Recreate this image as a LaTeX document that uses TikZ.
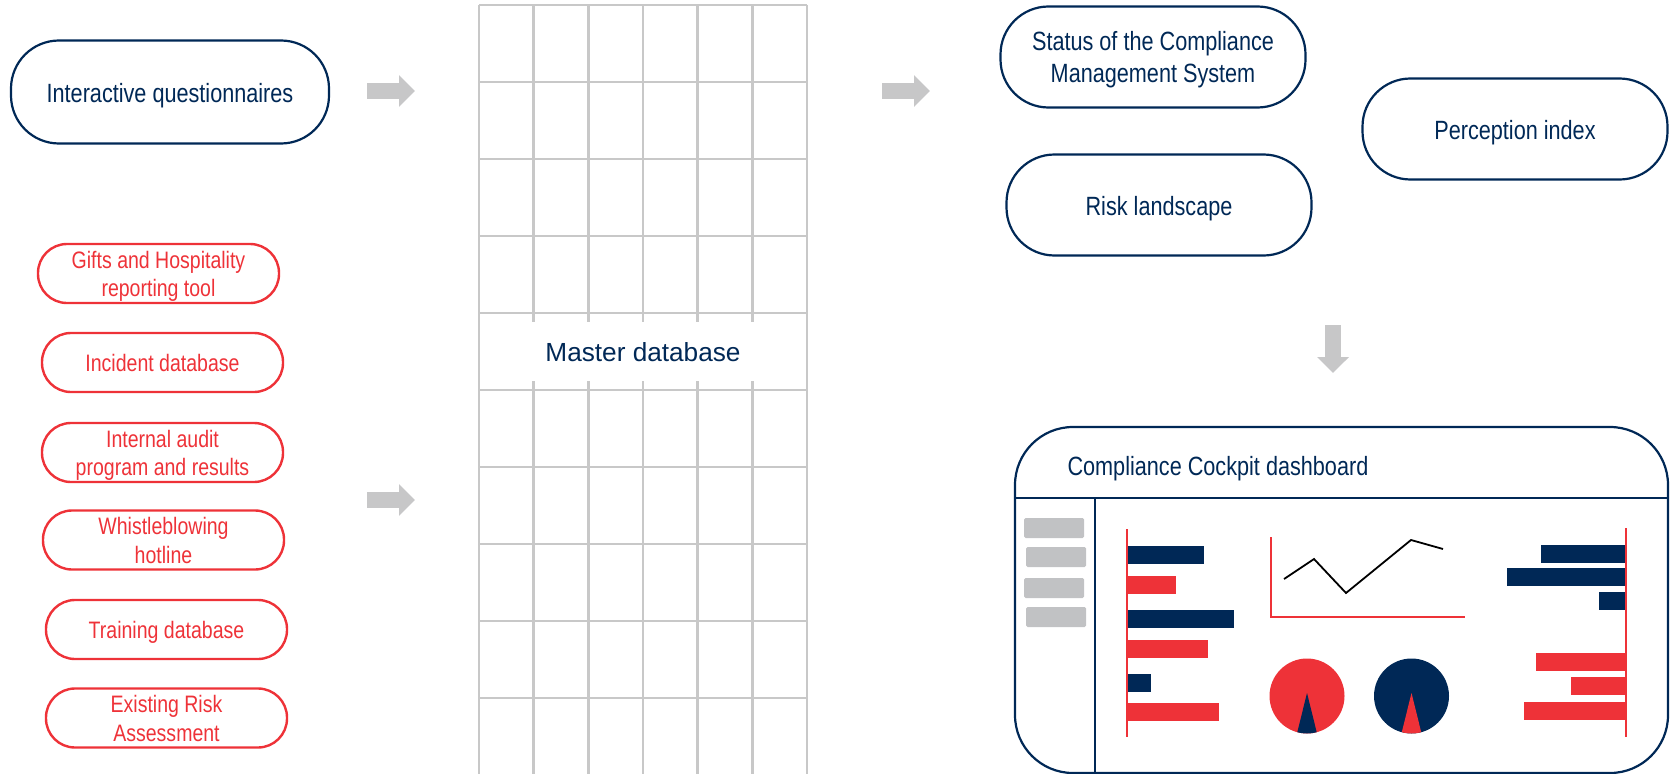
\documentclass[tikz,border=0pt]{standalone}
\usepackage{fontspec}
\setmainfont{Liberation Sans}[FakeStretch=0.82]
\newfontfamily\widesans{Liberation Sans}
\usetikzlibrary{arrows.meta}

\definecolor{navy}{RGB}{0,40,86}
\definecolor{brandred}{RGB}{238,50,56}
\definecolor{arrowgray}{RGB}{199,199,200}
\definecolor{gridgray}{RGB}{200,200,200}
\definecolor{blockgray}{RGB}{193,194,196}

\tikzset{
  navybox/.style={draw=navy, line width=2.2bp, rounded corners=48bp,
    minimum width=305bp, minimum height=101bp, align=center, text=navy,
    font=\fontsize{26.4bp}{32bp}\selectfont, text height=21bp, text depth=0pt},
  redbox/.style={draw=brandred, line width=2.4bp, rounded corners=29bp,
    minimum width=241bp, minimum height=59bp, inner sep=0pt, align=center,
    text=brandred, font=\fontsize{23.8bp}{28.5bp}\selectfont, text height=18bp, text depth=0pt},
  lines/.style={text height=#1, text depth=0pt},
  fatarrow/.style={draw=arrowgray, line width=16bp,
    -{Triangle[length=16bp,width=31bp]}},
  gridline/.style={draw=gridgray, line width=2.5bp},
  axisline/.style={draw=brandred, line width=2bp}
}

\begin{document}
\begin{tikzpicture}[x=1bp,y=-1bp]
  \useasboundingbox (0,0) rectangle (1670,774);

  % sources
  \node[navybox, minimum width=318bp, minimum height=103bp] (quest) at (170,92) {Interactive questionnaires};
  \foreach \nm/\lbl/\cx/\cy/\lheight in {gifts/{Gifts and Hospitality\\reporting tool}/158.5/273.5/46.5bp,
      incid/{Incident database}/162.5/362.5/18bp, audit/{Internal audit\\program and results}/162.5/452.5/46.5bp,
      whistle/{Whistleblowing\\hotline}/163.5/540/46.5bp, train/{Training database}/166.5/629.5/18bp,
      riskass/{Existing Risk\\Assessment}/166.5/718/46.5bp}
    \node[redbox, lines=\lheight] (\nm) at (\cx,\cy) {\lbl};

  % master database grid
  \foreach \c in {0,...,6}
    \draw[gridline] ({479+54.67*\c},5) -- ({479+54.67*\c},776);
  \foreach \r in {0,...,10}
    \draw[gridline] (479,{5+77*\r}) -- (807,{5+77*\r});
  \node[fill=white, inner sep=0pt, minimum width=226bp, minimum height=59bp, text=navy,
    font=\widesans\fontsize{26.2bp}{30bp}\selectfont, text height=21bp, text depth=0pt] (master) at (643,351) {Master database};

  % results
  \node[navybox, lines=52bp] (cms) at (1153,57) {Status of the Compliance\\Management System};
  \node[navybox] (risk) at (1159,205) {Risk landscape};
  \node[navybox] (perc) at (1515,129) {Perception index};

  \coordinate (a1s) at (367,91);   \coordinate (a1e) at (415,91);
  \coordinate (a2s) at (367,500);  \coordinate (a2e) at (415,500);
  \coordinate (a3s) at (882,91);   \coordinate (a3e) at (930,91);
  \coordinate (a4s) at (1333,325); \coordinate (a4e) at (1333,373);
  \foreach \i in {1,...,4}
    \draw[fatarrow] (a\i s) -- (a\i e);

  % dashboard
  \node[draw=navy, line width=2.2bp, rounded corners=58bp, minimum width=653bp,
    minimum height=346bp, inner sep=0pt] (dash) at (1341.5,600) {};
  \node[anchor=west, text=navy, font=\fontsize{26.4bp}{32bp}\selectfont,
    text height=19bp, text depth=0pt] (dashtitle) at (1064,466) {Compliance Cockpit dashboard};
  \draw[navy, line width=2.2bp] (1015,498) -- (1668,498);
  \draw[navy, line width=2.2bp] (1095,498) -- (1095,773);

  \foreach \bx/\by in {1024/518, 1026/547, 1024/578, 1026/607}
    \fill[blockgray, rounded corners=1.5bp] (\bx,\by) rectangle ++(60,20);

  \foreach \by/\len/\col in {546/77/navy, 576/49/brandred, 610/107/navy, 640/81/brandred, 674/24/navy, 703/92/brandred}
    \fill[\col] (1127,\by) rectangle ++(\len,17.5);
  \draw[axisline] (1127,529) -- (1127,737);

  \draw[axisline] (1271,537) -- (1271,617) -- (1465,617);
  \draw[black, line width=1.8bp] (1284,579) -- (1314,559) -- (1346,593) -- (1411,540) -- (1443,549);

  \fill[brandred] (1307,696) circle (37.5);
  \fill[navy] (1307,693) -- ([shift={(75:37.5)}]1307,696) arc[start angle=75, end angle=105, radius=37.5] -- cycle;
  \fill[navy] (1411.5,696) circle (37.5);
  \fill[brandred] (1411.5,693) -- ([shift={(75:37.5)}]1411.5,696) arc[start angle=75, end angle=105, radius=37.5] -- cycle;

  \foreach \by/\len/\col in {545/85/navy, 568/119/navy, 592/27/navy, 653/90/brandred, 677/55/brandred, 702/102/brandred}
    \fill[\col] (1626,\by) rectangle ++(-\len,17.5);
  \draw[axisline] (1626,528) -- (1626,737);
\end{tikzpicture}
\end{document}
